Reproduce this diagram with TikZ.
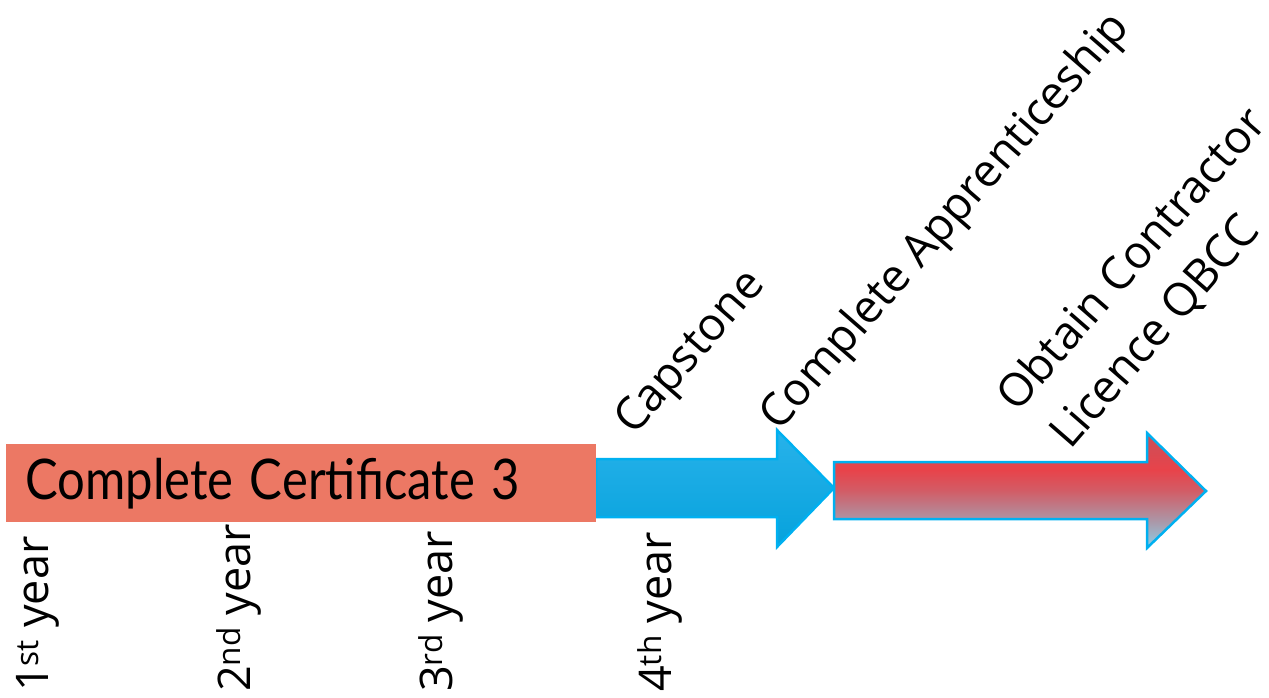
\documentclass[tikz,border=0pt]{standalone}
\usepackage{fontspec}
\setmainfont{Open Sans}
\newfontfamily\boxfont{Lato}
\definecolor{salmon}{HTML}{EC7864}
\definecolor{bluetop}{HTML}{28B2EA}
\definecolor{bluebot}{HTML}{06A2DC}
\definecolor{arrowline}{HTML}{00B0F0}
\definecolor{rc1}{HTML}{8CCFE8}
\definecolor{rc2}{HTML}{AC96A6}
\definecolor{rc3}{HTML}{D25C66}
\definecolor{rc4}{HTML}{E8434A}
\definecolor{rc5}{HTML}{C8505A}
\pgfdeclareverticalshading{redarrow}{100bp}{color(0bp)=(rc1); color(25bp)=(rc1); color(37bp)=(rc2); color(50bp)=(rc3); color(59bp)=(rc4); color(75bp)=(rc5); color(100bp)=(rc5)}
\begin{document}
\begin{tikzpicture}[x=1pt,y=-1pt,
  certbox/.style={fill=salmon, draw=none, inner ysep=0pt, inner xsep=19pt,
    minimum height=78pt, text width=552pt, align=left,
    font=\boxfont\fontsize{56}{64}\selectfont},
  yearlbl/.style={rotate=90, anchor=base west, inner sep=0pt,
    font=\fontsize{45}{54}\selectfont},
  diaglbl/.style={rotate=49, anchor=base west, inner sep=0pt,
    font=\fontsize{45.5}{54}\selectfont},
  bluearrow/.style={top color=bluetop, bottom color=bluebot, draw=arrowline, line width=2.5pt, line join=miter},
  redarrow/.style={shading=redarrow, draw=arrowline, line width=2.5pt, line join=miter}]
\useasboundingbox (0,0) rectangle (1269,697);
% blue arrow (behind the certificate box)
\path[bluearrow] (596,459) -- (777,459) -- (777,430) -- (834,488) -- (777,547) -- (777,517) -- (596,517) -- cycle;
% certificate box
\node[certbox, anchor=north west] (cert) at (6,444) {\raisebox{-3pt}{\scalebox{0.875}[1]{Complete Certificate 3}}};
% red arrow
\path[redarrow] (834,462) -- (1147,462) -- (1147,433) -- (1206,491) -- (1147,548) -- (1147,519) -- (834,519) -- cycle;
% year labels
\node[yearlbl] (y1) at (48,692) {1\textsuperscript{st} year};
\node[yearlbl] (y2) at (250,692) {2\textsuperscript{nd} year};
\node[yearlbl] (y3) at (452,692) {3\textsuperscript{rd} year};
\node[yearlbl] (y4) at (671,692) {4\textsuperscript{th} year};
% diagonal labels
\node[diaglbl] (cap) at (634,437) {Capstone};
\node[diaglbl] (appr) at (779,433) {Complete Apprenticeship};
\node[diaglbl] (obtain) at (1017,414) {Obtain Contractor};
\node[diaglbl] (licence) at (1070,451) {Licence QBCC};
\end{tikzpicture}
\end{document}
